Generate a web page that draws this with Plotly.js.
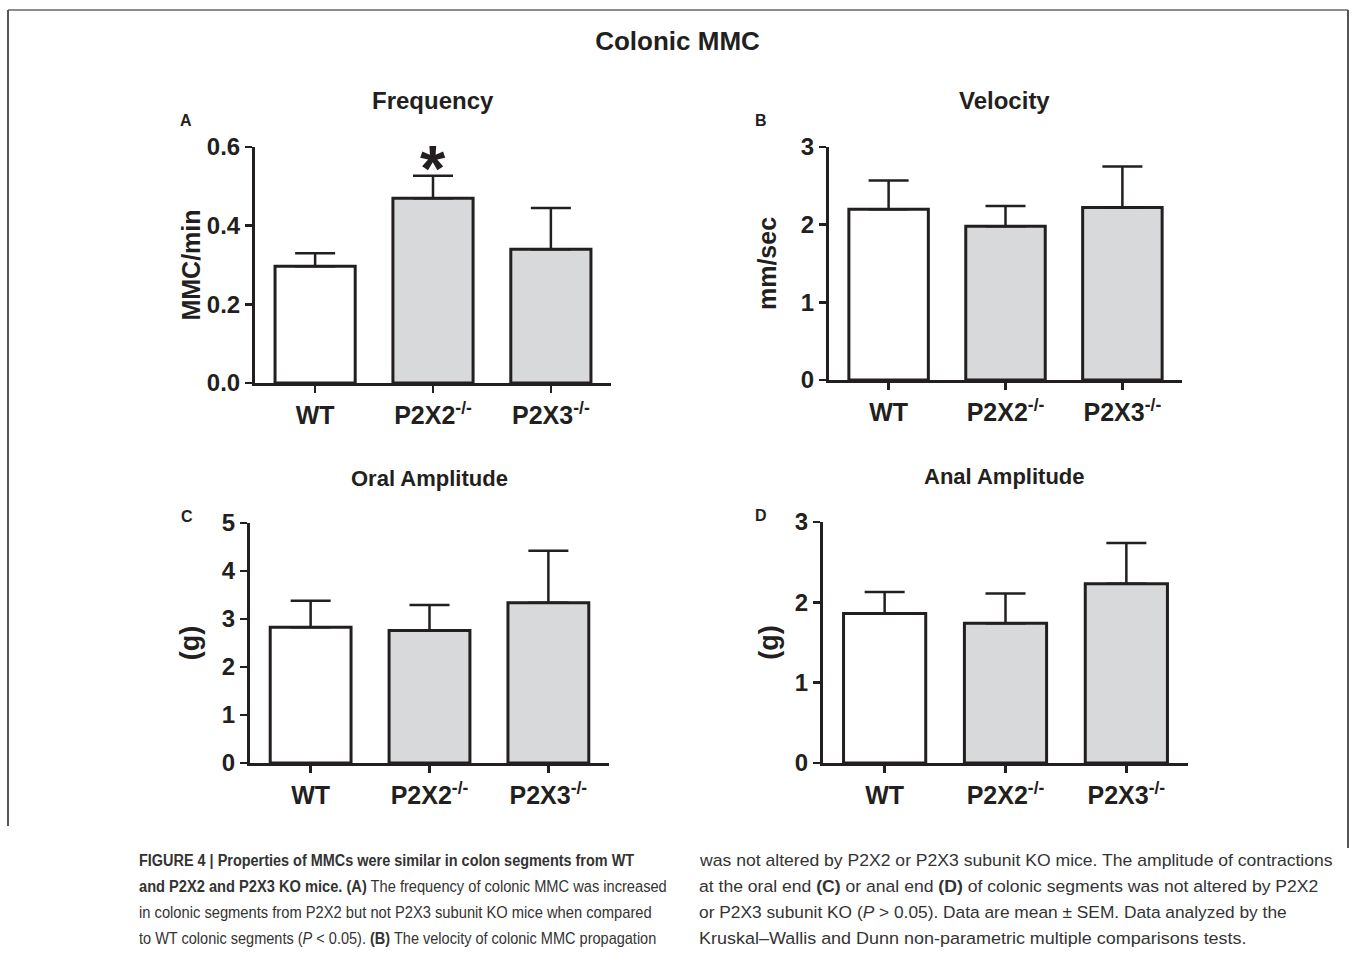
<!DOCTYPE html>
<html>
<head>
<meta charset="utf-8">
<script src="https://cdn.plot.ly/plotly-3.0.1.min.js"></script>
<style>html,body{margin:0;padding:0;background:#fff;}#chart{width:1355px;height:953px;}</style>
</head>
<body>
<div id="chart"></div>
<script>
// ---- data ----
var categories = ["WT", "P2X2<sup>-/-</sup>", "P2X3<sup>-/-</sup>"];
var freqMean = [0.297, 0.470, 0.340];
var freqSem  = [0.033, 0.057, 0.105];
var velMean  = [2.20, 1.98, 2.22];
var velSem   = [0.37, 0.26, 0.53];
var oralMean = [2.83, 2.76, 3.34];
var oralSem  = [0.55, 0.53, 1.08];
var analMean = [1.86, 1.74, 2.23];
var analSem  = [0.27, 0.37, 0.51];
var barColors = ["#ffffff", "#d8d9da", "#d8d9da"];

var captionLeft = [
  "<b>FIGURE 4 | Properties of MMCs were similar in colon segments from WT</b>",
  "<b>and P2X2 and P2X3 KO mice. (A)</b> The frequency of colonic MMC was increased",
  "in colonic segments from P2X2 but not P2X3 subunit KO mice when compared",
  "to WT colonic segments (<i>P</i> &lt; 0.05). <b>(B)</b> The velocity of colonic MMC propagation"
];
var captionRight = [
  "was not altered by P2X2 or P2X3 subunit KO mice. The amplitude of contractions",
  "at the oral end <b>(C)</b> or anal end <b>(D)</b> of colonic segments was not altered by P2X2",
  "or P2X3 subunit KO (<i>P</i> &gt; 0.05). Data are mean ± SEM. Data analyzed by the",
  "Kruskal–Wallis and Dunn non-parametric multiple comparisons tests."
];

var W = 1355, H = 953;
var INK = "#231f20";
var FONT = "Liberation Sans, Arial, sans-serif";
function px(x){ return x / W; }
function py(y){ return 1 - y / H; }

function barTrace(means, sems, xa, ya){
  return {
    type: "bar", x: categories, y: means, xaxis: xa, yaxis: ya,
    width: 0.68,
    marker: {color: barColors, line: {color: INK, width: 3}},
    error_y: {type: "data", symmetric: false, array: sems, arrayminus: [0,0,0],
              color: INK, thickness: 2.5, width: 20},
    hoverinfo: "y", showlegend: false
  };
}

var data = [
  barTrace(freqMean, freqSem, "x", "y"),
  barTrace(velMean, velSem, "x2", "y2"),
  barTrace(oralMean, oralSem, "x3", "y3"),
  barTrace(analMean, analSem, "x4", "y4")
];

function xax(x0, x1, anchor){
  return {domain: [px(x0), px(x1)], anchor: anchor, type: "category",
    range: [-0.51, 2.51], showline: true, linewidth: 3, linecolor: INK,
    ticks: "outside", ticklen: 7, tickwidth: 2.5, tickcolor: INK,
    ticklabelstandoff: 1,
    showgrid: false, zeroline: false, fixedrange: true,
    tickfont: {family: FONT, size: 25, color: INK, weight: "bold"}};
}
function yax(y0, y1, anchor, range, dtick, fmt, title, standoff, tsize){
  return {domain: [py(y0), py(y1)], anchor: anchor, range: range,
    tick0: 0, dtick: dtick, tickformat: fmt,
    showline: true, linewidth: 3, linecolor: INK,
    ticks: "outside", ticklen: 7, tickwidth: 2.5, tickcolor: INK,
    showgrid: false, zeroline: false, fixedrange: true,
    tickfont: {family: FONT, size: 24, color: INK, weight: "bold"},
    title: {text: title, standoff: standoff, font: {family: FONT, size: tsize, color: INK, weight: "bold"}}};
}

function ann(x, y, text, size){
  return {xref: "paper", yref: "paper", x: px(x), y: py(y), text: text,
    showarrow: false, xanchor: "center", yanchor: "middle",
    font: {family: FONT, size: size, color: INK, weight: "bold"}};
}

function cap(x, y, text){
  return {xref: "paper", yref: "paper", x: px(x), y: py(y), text: text,
    showarrow: false, xanchor: "left", yanchor: "middle", align: "left",
    font: {family: FONT, size: 17, color: "#333333"}};
}

var annotations = [
  ann(433, 100, "Frequency", 24),
  ann(1005, 100, "Velocity", 24),
  ann(430, 478, "Oral Amplitude", 22),
  ann(1005, 476, "Anal Amplitude", 22),
  ann(186, 121, "A", 16),
  ann(761, 121, "B", 16),
  ann(187, 516, "C", 16),
  ann(761, 515, "D", 16),
  {xref: "x", yref: "y", x: categories[1], y: freqMean[1] + freqSem[1], text: "*",
   showarrow: false, yanchor: "bottom", yshift: -31,
   font: {family: FONT, size: 65, color: INK, weight: "bold"}}
];
var lineY = [860, 886, 912, 938];
var capWidths = [496, 528, 513, 518, 634, 620, 588, 548];
captionLeft.forEach(function(t, i){ annotations.push(cap(137, lineY[i], t)); });
captionRight.forEach(function(t, i){ annotations.push(cap(697, lineY[i], t)); });
var capStart = annotations.length - 8;

var shapes = [
  {type: "line", xref: "paper", yref: "paper", x0: px(8), x1: px(1348), y0: py(10), y1: py(10), line: {color: "#8c8c8c", width: 2}},
  {type: "line", xref: "paper", yref: "paper", x0: px(8), x1: px(8), y0: py(10), y1: py(826), line: {color: "#555555", width: 2}},
  {type: "line", xref: "paper", yref: "paper", x0: px(1348), x1: px(1348), y0: py(10), y1: py(848), line: {color: "#555555", width: 2}}
];

var layout = {
  width: W, height: H, margin: {l: 0, r: 0, t: 0, b: 0},
  paper_bgcolor: "#ffffff", plot_bgcolor: "rgba(0,0,0,0)",
  title: {text: "Colonic MMC", x: 0.5, xanchor: "center", yref: "container", y: py(41), yanchor: "middle",
          font: {family: FONT, size: 26, color: INK, weight: "bold"}},
  showlegend: false,
  xaxis: xax(255, 611, "y"),
  yaxis: yax(383, 147, "x", [0, 0.6], 0.2, ".1f", "MMC/min", 0, 25),
  xaxis2: xax(829, 1182, "y2"),
  yaxis2: yax(380, 147, "x2", [0, 3], 1, "d", "mm/sec", 18, 25),
  xaxis3: xax(250, 609, "y3"),
  yaxis3: yax(763, 523, "x3", [0, 5], 1, "d", "(g)", 15, 27),
  xaxis4: xax(823, 1188, "y4"),
  yaxis4: yax(763, 522, "x4", [0, 3], 1, "d", "(g)", 9, 27),
  annotations: annotations,
  shapes: shapes
};

Plotly.newPlot("chart", data, layout, {displayModeBar: false, staticPlot: true}).then(function(gd){
  // condense caption lines horizontally to the reference column widths
  var texts = gd.querySelectorAll(".infolayer .annotation .annotation-text");
  for (var i = 0; i < 8; i++) {
    var el = texts[capStart + i];
    if (!el) continue;
    var natural = el.getBBox().width;
    if (!natural) continue;
    var s = capWidths[i] / natural;
    var x0 = el.getBBox().x;
    var prev = el.getAttribute("transform") || "";
    el.setAttribute("transform", prev + " translate(" + x0 + ",0) scale(" + s + ",1) translate(" + (-x0) + ",0)");
  }
});
</script>
</body>
</html>
